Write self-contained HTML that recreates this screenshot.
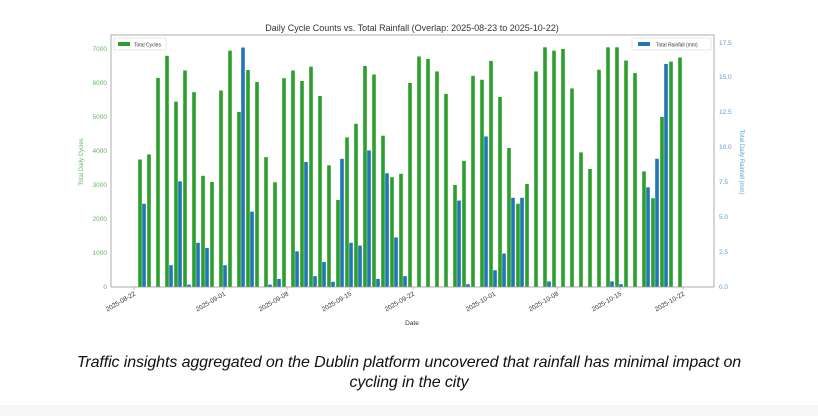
<!DOCTYPE html>
<html><head><meta charset="utf-8"><style>
html,body{margin:0;padding:0;background:#fff;}
body{width:818px;height:416px;position:relative;overflow:hidden;font-family:"Liberation Sans",sans-serif;}
.cap{position:absolute;left:0;width:818px;top:353px;text-align:center;font-style:italic;font-size:16px;line-height:20px;color:#111;letter-spacing:-0.1px;}
.strip{position:absolute;left:0;top:405px;width:818px;height:11px;background:#f7f7f7;}
</style></head><body>
<svg id="s" width="818" height="416" style="position:absolute;left:0;top:0" font-family="Liberation Sans, sans-serif">
<text x="412" y="31" font-size="9" text-anchor="middle" fill="#333">Daily Cycle Counts vs. Total Rainfall (Overlap: 2025-08-23 to 2025-10-22)</text>
<g id="bars"></g>
<rect x="111" y="35" width="603" height="252" fill="none" stroke="#999" stroke-width="0.8"/>
<g font-size="6.5" fill="#5cb85c" text-anchor="end">
<text x="107" y="289">0</text><text x="107" y="255">1000</text><text x="107" y="221">2000</text><text x="107" y="187">3000</text><text x="107" y="153">4000</text><text x="107" y="119">5000</text><text x="107" y="85">6000</text><text x="107" y="51">7000</text>
</g>
<g font-size="6.5" fill="#5b9bd5">
<text x="719" y="289">0.0</text><text x="719" y="254">2.5</text><text x="719" y="219">5.0</text><text x="719" y="184">7.5</text><text x="719" y="149">10.0</text><text x="719" y="114">12.5</text><text x="719" y="79">15.0</text><text x="719" y="45">17.5</text>
</g>
<text transform="translate(83,162) rotate(-90)" font-size="6" fill="#5cb85c" text-anchor="middle">Total Daily Cycles</text>
<text transform="translate(740,162) rotate(90)" font-size="6" fill="#5b9bd5" text-anchor="middle">Total Daily Rainfall (mm)</text>
<text x="412" y="325" font-size="6.5" fill="#333" text-anchor="middle">Date</text>
<g id="xt" font-size="6.5" fill="#333" text-anchor="end"></g>
<rect x="114" y="38" width="52" height="12" fill="#fff" stroke="#ddd" stroke-width="0.6"/>
<rect x="118" y="42" width="12" height="4" fill="#2ca02c"/>
<text x="134" y="46.5" font-size="5" fill="#333">Total Cycles</text>
<rect x="632" y="38" width="79" height="12" fill="#fff" stroke="#ddd" stroke-width="0.6"/>
<rect x="638" y="42" width="12" height="4" fill="#1f77b4"/>
<text x="656" y="46.5" font-size="5" fill="#333">Total Rainfall (mm)</text>
</svg>
<div class="cap">Traffic insights aggregated on the Dublin platform uncovered that rainfall has minimal impact on<br>cycling in the city</div>
<div class="strip"></div>
<script>
var g=[0,3750,3900,6150,6800,5450,6370,5730,3270,3090,5780,6950,5150,6380,6030,3820,3080,6140,6370,6060,6480,5620,3580,2560,4400,4800,6500,6250,4450,3230,3330,6000,6780,6710,6340,5680,3000,3710,6210,6095,6650,5590,4090,2450,3030,6340,7050,6950,7000,5840,3960,3470,6390,7050,7050,6660,6290,3400,2610,5000,6630,6750];
var b={1:5.97,4:1.56,5:7.58,6:0.17,7:3.17,8:2.8,10:1.56,12:17.18,13:5.41,15:0.17,16:0.58,18:2.56,19:8.97,20:0.78,21:1.8,22:0.37,23:9.19,24:3.17,25:2.97,26:9.8,27:0.58,28:8.16,29:3.56,30:0.78,36:6.2,37:0.2,39:10.8,40:1.2,41:2.4,42:6.4,43:6.4,46:0.4,53:0.4,54:0.2,57:7.15,58:9.2,59:16.0};
var h='';
for(var d=1;d<=61;d++){var x=134+9*d;var gh=g[d]*0.034;
h+='<rect x="'+(x-4.8)+'" y="'+(287-gh)+'" width="3.6" height="'+gh+'" fill="#2ca02c"/>';
if(b[d]){var bh=b[d]*13.94;h+='<rect x="'+(x-0.8)+'" y="'+(287-bh)+'" width="3.6" height="'+bh+'" fill="#1f77b4"/>';}}
document.getElementById('bars').innerHTML=h;
var t=[[0,'2025-08-22'],[10,'2025-09-01'],[17,'2025-09-08'],[24,'2025-09-15'],[31,'2025-09-22'],[40,'2025-10-01'],[47,'2025-10-08'],[54,'2025-10-15'],[61,'2025-10-22']];
var s='';t.forEach(function(a){var x=134+9*a[0];s+='<line x1="'+x+'" y1="287" x2="'+x+'" y2="290" stroke="#999" stroke-width="0.6"/><text transform="translate('+(x+2)+',295) rotate(-30)">'+a[1]+'</text>';});
document.getElementById('xt').innerHTML=s;
</script>
</body></html>
